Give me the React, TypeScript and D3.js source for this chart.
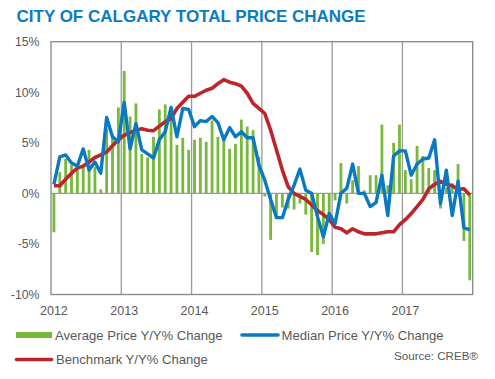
import React from "react";
import * as d3 from "d3";

const years = ["2012", "2013", "2014", "2015", "2016", "2017"];
const yTicks = [-10, -5, 0, 5, 10, 15];

// Monthly Y/Y % change, Jan 2012 .. Dec 2017
const averageChange = [
  -3.85, 2.1, 3.4, 2.8, 2.8, 2.8, 4.3, 2.6, 0.4, 6.4, 5.6, 8.5,
  12.1, 7.6, 8.9, 3.9, 3.55, 5.6, 8.3, 8.8, 8.6, 4.8, 5.5, 4.3,
  5.3, 5.5, 5.1, 7.2, 5.6, 5.2, 4.4, 4.9, 7.3, 6.6, 6.25, 3.6,
  -0.3, -4.6, -2.3, -1.4, -1.5, -1.6, -1.0, -2.1, -5.8, -6.1, -5.0, -2.0,
  -0.7, 3.0, -1.0, 1.3, 2.7, 0.3, 1.8, 1.8, 6.8, 0.8, 5.0, 6.8,
  2.3, 1.4, 4.7, 3.7, 2.5, 2.3, -1.5, 0.6, 1.0, 2.9, -4.7, -8.6,
];

const medianChange = [
  0.9, 3.6, 3.8, 3.0, 2.7, 4.4, 2.3, 3.1, 2.0, 7.5, 5.6, 5.1,
  9.0, 4.4, 6.9, 4.3, 3.9, 3.5, 5.3, 6.1, 8.5, 5.6, 8.4, 8.3,
  6.6, 7.2, 7.1, 7.6, 7.0, 5.3, 6.5, 5.6, 6.1, 5.5, 5.5, 2.8,
  1.3, -0.6, -2.4, -2.4, -0.6, 0.8, 2.4, 0.3, 0.0, -2.3, -4.3, -2.0,
  -3.0, 0.0, 0.5, 2.9, 0.0, 0.0, -1.3, -0.9, 1.8, -2.2, 3.7, 4.2,
  4.2, 1.8, 2.9, 3.4, 3.5, 5.3, -1.0, 2.3, -2.2, 1.2, -3.4, -3.6,
];

const benchmarkChange = [
  0.75, 0.75, 1.4, 2.0, 2.5, 2.7, 3.1, 3.55, 3.8, 4.1, 4.7, 5.3,
  5.75, 6.0, 6.25, 6.4, 6.25, 6.2, 6.65, 7.1, 7.4, 8.4, 9.0, 9.6,
  9.6, 9.9, 10.2, 10.4, 10.85, 11.25, 11.0, 10.85, 10.6, 9.9, 8.9, 8.4,
  7.9, 6.25, 4.3, 2.3, 0.65, 0.0, -0.3, -0.6, -1.15, -1.7, -2.1, -2.6,
  -3.35, -3.5, -3.9, -3.5, -3.8, -4.0, -4.0, -4.0, -3.9, -3.8, -3.8, -3.1,
  -2.6, -2.0, -1.3, -0.6, 0.45, 0.9, 1.2, 0.9, 0.75, 0.4, 0.45, -0.15,
];

const GREEN = "#78b83c";
const BLUE = "#0a79c1";
const RED = "#be252b";
const GRID = "#9a9a9a";
const TEXT = "#595959";

export default function App() {
  const W = 495;
  const H = 379;
  const left = 51;
  const right = 472.7;
  const top = 41.7;
  const bottom = 294.5;

  const idx = averageChange.map((_, i) => i);
  const x = d3
    .scaleBand<number>()
    .domain(idx)
    .range([left, right])
    .paddingInner(0.52)
    .paddingOuter(0.26);
  const bw = x.bandwidth();
  const cx = (i: number) => (x(i) as number) + bw / 2;
  const xl = d3.scaleLinear().domain([0, averageChange.length]).range([left, right]);
  const y = d3.scaleLinear().domain([-10, 15]).range([bottom, top]);

  const line = d3
    .line<number>()
    .x((_, i) => cx(i))
    .y((d) => y(d))
    .curve(d3.curveLinear);

  const font = "Arial, 'Liberation Sans', sans-serif";

  return (
    <svg
      width={W}
      height={H}
      style={{ position: "absolute", left: 0, top: 0, background: "#fff" }}
      fontFamily={font}
    >
      <text x={16.5} y={21.5} fontSize={17} fontWeight="bold" fill="#0b7bc4">
        CITY OF CALGARY TOTAL PRICE CHANGE
      </text>

      {/* bars */}
      {averageChange.map((v, i) => (
        <rect
          key={i}
          x={x(i)}
          width={bw}
          y={Math.min(y(v), y(0))}
          height={Math.abs(y(v) - y(0))}
          fill={GREEN}
        />
      ))}

      {/* year gridlines */}
      {years.map((_, k) =>
        k === 0 ? null : (
          <line
            key={k}
            x1={xl(k * 12)}
            x2={xl(k * 12)}
            y1={top}
            y2={bottom}
            stroke={GRID}
            strokeWidth={1.3}
          />
        )
      )}
      {/* zero line */}
      <line x1={left} x2={right} y1={y(0)} y2={y(0)} stroke={GRID} strokeWidth={1.3} />
      {/* frame */}
      <rect
        x={left}
        y={top}
        width={right - left}
        height={bottom - top}
        fill="none"
        stroke="#8a8f8d"
        strokeWidth={1.4}
      />

      {/* lines */}
      <path d={line(benchmarkChange) || ""} fill="none" stroke={RED} strokeWidth={3.6} strokeLinejoin="round" />
      <path d={line(medianChange) || ""} fill="none" stroke={BLUE} strokeWidth={3.4} strokeLinejoin="round" />

      {/* y ticks */}
      {yTicks.map((t) => (
        <text key={t} x={39.5} y={y(t)} dy="0.35em" textAnchor="end" fontSize={12.3} fill={TEXT}>
          {t}%
        </text>
      ))}

      {/* x labels */}
      {years.map((yr, k) => (
        <text key={yr} x={cx(k * 12)} y={314.5} textAnchor="middle" fontSize={12.5} fill={TEXT}>
          {yr}
        </text>
      ))}

      {/* legend */}
      <rect x={16} y={332} width={36} height={6} fill={GREEN} />
      <text x={55} y={339.5} fontSize={13.1} fill={TEXT}>
        Average Price Y/Y% Change
      </text>
      <line x1={242} x2={278} y1={335} y2={335} stroke={BLUE} strokeWidth={3.6} strokeLinecap="round" />
      <text x={281.5} y={339.5} fontSize={13.1} fill={TEXT}>
        Median Price Y/Y% Change
      </text>
      <line x1={16.5} x2={51.5} y1={359.5} y2={359.5} stroke={RED} strokeWidth={3.6} strokeLinecap="round" />
      <text x={56} y={364} fontSize={13.1} fill={TEXT}>
        Benchmark Y/Y% Change
      </text>
      <text x={478} y={360} textAnchor="end" fontSize={11.6} fill={TEXT}>
        Source: CREB®
      </text>
    </svg>
  );
}
